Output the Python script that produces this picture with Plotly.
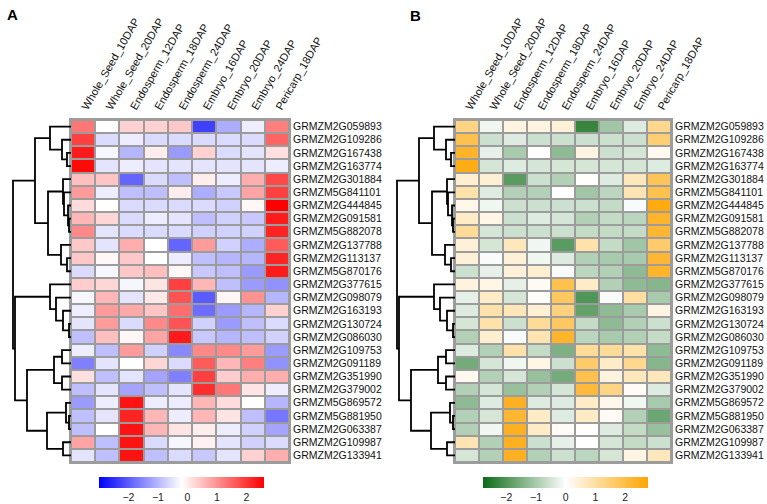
import plotly.graph_objects as go

genes = ["GRMZM2G059893", "GRMZM2G109286", "GRMZM2G167438", "GRMZM2G163774",
         "GRMZM2G301884", "GRMZM5G841101", "GRMZM2G444845", "GRMZM2G091581",
         "GRMZM5G882078", "GRMZM2G137788", "GRMZM2G113137", "GRMZM5G870176",
         "GRMZM2G377615", "GRMZM2G098079", "GRMZM2G163193", "GRMZM2G130724",
         "GRMZM2G086030", "GRMZM2G109753", "GRMZM2G091189", "GRMZM2G351990",
         "GRMZM2G379002", "GRMZM5G869572", "GRMZM5G881950", "GRMZM2G063387",
         "GRMZM2G109987", "GRMZM2G133941"]

samples = ["Whole_Seed_10DAP", "Whole_Seed_20DAP", "Endosperm_12DAP", "Endosperm_18DAP",
           "Endosperm_24DAP", "Embryo_16DAP", "Embryo_20DAP", "Embryo_24DAP", "Pericarp_18DAP"]

# row-scaled expression (z-score), rows in the clustered order
expr = [
    [1.3, -0.2, 0.3, 0.3, 0.4, -2.3, -1.1, -0.4, 1.2],
    [1.9, -0.6, -0.4, -0.6, -0.6, -0.6, -0.6, -0.6, 1.5],
    [2.3, -0.3, -1.0, 0.0, -1.3, 0.3, -0.6, -0.5, 0.15],
    [2.5, -0.5, -0.4, -0.5, -0.5, -0.5, -0.5, -0.5, -0.4],
    [0.5, 0.45, -1.9, -0.6, -0.9, 0.0, -0.4, 0.7, 1.8],
    [0.9, -0.4, -0.9, -0.9, 0.0, -1.1, -0.8, 0.8, 1.9],
    [0.2, -0.2, -0.6, -0.6, -0.6, -0.6, -0.7, -0.1, 2.6],
    [0.6, 0.25, -0.6, -0.4, -0.5, -0.9, -0.7, -0.8, 2.3],
    [1.1, -0.5, -0.6, -0.6, -0.6, -0.7, -0.7, -0.7, 2.2],
    [0.4, -0.5, 0.7, -0.2, -1.9, 0.9, -0.7, -1.1, 1.6],
    [0.4, -0.1, 0.4, -0.2, -0.4, -0.9, -1.0, -1.0, 2.2],
    [-0.6, -0.3, 0.4, 0.5, -0.1, -0.8, -0.9, -1.3, 2.3],
    [0.35, 0.25, -0.3, 0.1, 1.9, 0.6, -0.9, -1.3, -1.4],
    [-0.3, 0.6, -0.5, 0.05, 1.7, -2.0, -0.1, 1.0, -1.0],
    [-0.4, 0.9, 0.75, 0.45, 1.4, -1.8, -1.3, -1.0, 0.3],
    [-0.5, 0.9, -0.6, 1.1, 1.7, -0.7, -1.3, -0.9, -0.6],
    [-0.9, 0.5, -0.1, 0.8, 2.3, -0.8, -1.0, -0.9, -0.7],
    [-0.4, -0.9, 0.9, -0.7, -1.5, 1.1, 1.1, 0.9, -1.3],
    [-1.6, -0.5, -0.2, 0.25, -0.6, 1.6, 0.6, 1.2, -1.4],
    [0.15, -0.9, -0.5, -1.2, -1.6, 1.9, 0.35, 0.7, 0.7],
    [-0.9, -0.5, -1.2, -0.9, -0.5, 2.1, 1.3, 0.1, -0.4],
    [-1.3, -0.4, 2.4, -0.4, -0.4, 0.6, 0.2, -0.2, -1.0],
    [-0.9, -0.5, 2.2, 0.6, -0.4, 0.6, 0.1, -0.9, -1.7],
    [-0.9, -0.2, 2.4, 0.6, 0.1, 0.0, -0.4, -0.7, -1.2],
    [0.8, -0.9, 2.4, -0.6, -0.3, -0.05, -0.5, -0.7, -0.6],
    [-0.5, -0.9, 2.4, -0.9, -0.6, -0.8, -0.5, 0.3, 0.7],
]

# hierarchical clustering of the rows (scipy-style linkage; new cluster ids start at 26)
link_left = [2, 1, 0, 7, 6, 5, 4, 10, 9, 32, 28, 15, 14, 13, 12, 17, 19, 41, 22, 21, 24, 45, 43, 40, 36]
link_right = [3, 26, 27, 8, 29, 30, 31, 11, 33, 34, 35, 16, 37, 38, 39, 18, 20, 42, 23, 44, 25, 46, 47, 48, 49]
link_height = [4, 9, 21, 2, 3, 7, 8, 4, 10, 23, 36, 2, 8, 15, 21, 9, 9, 17, 2, 5, 8, 24, 44, 56, 58]

cbar_ticks = [-2, -1, 0, 1, 2]

W, H = 767, 504
FONT = "Arial, Liberation Sans, sans-serif"
GRID = "#9c9c9c"

n = len(genes)
pos = {i: (float(i), 0.0) for i in range(n)}
dx, dy = [], []
for k, (a, b, h) in enumerate(zip(link_left, link_right, link_height)):
    ya, ha = pos[a]
    yb, hb = pos[b]
    dx += [ha, h, h, hb, None]
    dy += [ya, ya, yb, yb, None]
    pos[n + k] = ((ya + yb) / 2.0, h)

rows = list(range(n))
cols = list(range(len(samples)))

fig = go.Figure()

panels = [
    dict(hx="x", hy="y", dxa="x2", dya="y2",
         hdom=[71, 289], ddom=[0, 71],
         cs=[[0, "#0000ff"], [0.5, "#ffffff"], [1, "#ff0000"]],
         zmin=-3.0, zmax=2.6, cbx=181.5),
    dict(hx="x3", hy="y3", dxa="x4", dya="y4",
         hdom=[455, 671], ddom=[384, 455],
         cs=[[0, "#0b6b16"], [0.5, "#ffffff"], [1, "#ffa500"]],
         zmin=-2.8, zmax=2.75, cbx=565),
]

top, bot = 120, 462
ydom = [1 - bot / H, 1 - top / H]

for i, p in enumerate(panels):
    fig.add_trace(go.Heatmap(
        z=expr, x=cols, y=rows, xaxis=p["hx"], yaxis=p["hy"],
        colorscale=p["cs"], zmin=p["zmin"], zmax=p["zmax"],
        xgap=2, ygap=2, hoverinfo="skip",
        colorbar=dict(orientation="h", lenmode="pixels", len=165,
                      thickness=11, thicknessmode="pixels",
                      x=p["cbx"] / W, xanchor="center",
                      y=1 - 477 / H, yanchor="top",
                      outlinewidth=0, ticks="", tickvals=cbar_ticks,
                      tickfont=dict(family=FONT, size=10.5, color="#222"),
                      ypad=0, xpad=0),
    ))
    fig.add_trace(go.Scatter(
        x=dx, y=dy, mode="lines", xaxis=p["dxa"], yaxis=p["dya"],
        line=dict(color="black", width=1.8), hoverinfo="skip", showlegend=False,
    ))
    hx = "xaxis" + p["hx"][1:]
    hy = "yaxis" + p["hy"][1:]
    dxn = "xaxis" + p["dxa"][1:]
    dyn = "yaxis" + p["dya"][1:]
    fig.layout[hx] = dict(domain=[p["hdom"][0] / W, p["hdom"][1] / W], anchor=p["hy"],
                          side="top", tickmode="array", tickvals=cols, ticktext=samples,
                          tickangle=-60, ticks="", showgrid=False, zeroline=False,
                          automargin=False, range=[-0.5, len(samples) - 0.5],
                          showline=True, mirror=True, linecolor=GRID, linewidth=2,
                          tickfont=dict(family=FONT, size=11, color="#111"))
    fig.layout[hy] = dict(domain=ydom, anchor=p["hx"], side="right",
                          tickmode="array", tickvals=rows, ticktext=genes,
                          ticks="", showgrid=False, zeroline=False, automargin=False,
                          range=[n - 0.5, -0.5],
                          showline=True, mirror=True, linecolor=GRID, linewidth=2,
                          tickfont=dict(family=FONT, size=10.5, color="#111"))
    w = p["ddom"][1] - p["ddom"][0]
    fig.layout[dxn] = dict(domain=[p["ddom"][0] / W, p["ddom"][1] / W], anchor=p["dya"],
                           range=[w, 0], visible=False, automargin=False)
    fig.layout[dyn] = dict(domain=ydom, anchor=p["dxa"], range=[n - 0.5, -0.5],
                           visible=False, automargin=False)
    fig.add_shape(type="rect", xref=p["hx"] + " domain", yref=p["hy"] + " domain",
                  x0=0, x1=1, y0=0, y1=1, fillcolor=GRID, line_width=0, layer="below")

for lab, lx, ly in (("A", 12.5, 14), ("B", 415, 15)):
    fig.add_annotation(text="<b>" + lab + "</b>", x=lx / W, y=1 - ly / H,
                       xref="paper", yref="paper", xanchor="center", yanchor="middle",
                       showarrow=False, font=dict(family=FONT, size=15, color="black"))

fig.update_layout(width=W, height=H, margin=dict(l=0, r=0, t=0, b=0, autoexpand=False),
                  paper_bgcolor="white", plot_bgcolor="white", showlegend=False,
                  font=dict(family=FONT))

fig.write_html("out.html", config={"displayModeBar": False},
               post_script="document.body.style.margin='0';document.body.style.overflow='hidden';")
